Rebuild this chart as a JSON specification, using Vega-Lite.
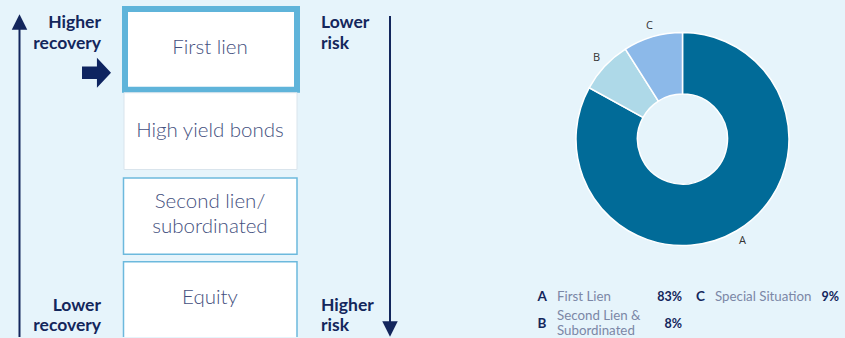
{
  "$schema": "https://vega.github.io/schema/vega-lite/v6.json",
  "width": 845,
  "height": 338,
  "padding": 0,
  "autosize": {"type": "fit", "contains": "padding"},
  "background": "#E6F4FB",
  "view": {"stroke": null},
  "config": {"font": "Lato"},
  "datasets": {
    "boxes": [
      {"name": "First lien", "tier": 1, "x": 125, "x2": 297, "y": 9, "y2": 90},
      {"name": "High yield bonds", "tier": 2, "x": 124, "x2": 297, "y": 93, "y2": 170},
      {"name": "Second lien/subordinated", "tier": 3, "x": 123.5, "x2": 297, "y": 178.5, "y2": 255},
      {"name": "Equity", "tier": 4, "x": 123.5, "x2": 297, "y": 262.5, "y2": 345}
    ],
    "boxtext": [
      {"t": "First lien", "x": 210, "y": 48},
      {"t": "High yield bonds", "x": 210, "y": 131},
      {"t": "Second lien/", "x": 210, "y": 203},
      {"t": "subordinated", "x": 210, "y": 228},
      {"t": "Equity", "x": 210, "y": 299}
    ],
    "side": [
      {"t": "Higher", "side": "left", "x": 101, "y": 23},
      {"t": "recovery", "side": "left", "x": 101, "y": 44},
      {"t": "Lower", "side": "left", "x": 101, "y": 307},
      {"t": "recovery", "side": "left", "x": 101, "y": 327},
      {"t": "Lower", "side": "right", "x": 321, "y": 23},
      {"t": "risk", "side": "right", "x": 321, "y": 44},
      {"t": "Higher", "side": "right", "x": 321, "y": 307},
      {"t": "risk", "side": "right", "x": 321, "y": 327}
    ],
    "lines": [
      {"axis": "recovery", "x": 19.5, "y": 26, "y2": 345},
      {"axis": "risk", "x": 390, "y": 16, "y2": 326}
    ],
    "heads": [
      {"dir": "up", "x": 19.5, "y": 22},
      {"dir": "down", "x": 390, "y": 330}
    ],
    "pointer": [{"target": "First lien", "x": 96.5, "y": 73}],
    "shares": [
      {"key": "A", "name": "First Lien", "pct": 83},
      {"key": "B", "name": "Second Lien & Subordinated", "pct": 8},
      {"key": "C", "name": "Special Situation", "pct": 9}
    ],
    "legend": [
      {"t": "A", "role": "letter", "x": 537.5, "y": 297.5},
      {"t": "First Lien", "role": "label", "x": 557, "y": 297.5},
      {"t": "83%", "role": "pct", "x": 682, "y": 297.5},
      {"t": "C", "role": "letter", "x": 696, "y": 297.5},
      {"t": "Special Situation", "role": "label", "x": 715, "y": 297.5},
      {"t": "9%", "role": "pct", "x": 839, "y": 297.5},
      {"t": "B", "role": "letter", "x": 537.5, "y": 324.5},
      {"t": "Second Lien &", "role": "label", "x": 557, "y": 316.5},
      {"t": "Subordinated", "role": "label", "x": 557, "y": 332},
      {"t": "8%", "role": "pct", "x": 682, "y": 324.5}
    ]
  },
  "layer": [
    {
      "data": {"name": "boxes"},
      "transform": [{"filter": "datum.tier == 1"}],
      "mark": {"type": "rect", "fill": "#FFFFFF", "stroke": "#5FB4DA", "strokeWidth": 6},
      "encoding": {
        "x": {"field": "x", "type": "quantitative", "scale": {"domain": [0, 845], "nice": false, "zero": false}, "axis": null},
        "y": {"field": "y", "type": "quantitative", "scale": {"domain": [0, 338], "nice": false, "zero": false, "reverse": true}, "axis": null},
        "x2": {"field": "x2"}, "y2": {"field": "y2"}
      }
    },
    {
      "data": {"name": "boxes"},
      "transform": [{"filter": "datum.tier == 2"}],
      "mark": {"type": "rect", "fill": "#FFFFFF", "stroke": "#D9E4EC", "strokeWidth": 1},
      "encoding": {
        "x": {"field": "x", "type": "quantitative", "scale": {"domain": [0, 845], "nice": false, "zero": false}, "axis": null},
        "y": {"field": "y", "type": "quantitative", "scale": {"domain": [0, 338], "nice": false, "zero": false, "reverse": true}, "axis": null},
        "x2": {"field": "x2"}, "y2": {"field": "y2"}
      }
    },
    {
      "data": {"name": "boxes"},
      "transform": [{"filter": "datum.tier >= 3"}],
      "mark": {"type": "rect", "fill": "#FFFFFF", "stroke": "#6CB9DD", "strokeWidth": 1.5, "clip": true},
      "encoding": {
        "x": {"field": "x", "type": "quantitative", "scale": {"domain": [0, 845], "nice": false, "zero": false}, "axis": null},
        "y": {"field": "y", "type": "quantitative", "scale": {"domain": [0, 338], "nice": false, "zero": false, "reverse": true}, "axis": null},
        "x2": {"field": "x2"}, "y2": {"field": "y2"}
      }
    },
    {
      "data": {"name": "boxtext"},
      "mark": {"type": "text", "fontSize": 20.5, "fontWeight": 300, "color": "#44507E", "align": "center", "baseline": "middle"},
      "encoding": {
        "x": {"field": "x", "type": "quantitative", "scale": {"domain": [0, 845], "nice": false, "zero": false}, "axis": null},
        "y": {"field": "y", "type": "quantitative", "scale": {"domain": [0, 338], "nice": false, "zero": false, "reverse": true}, "axis": null},
        "text": {"field": "t"}
      }
    },
    {
      "data": {"name": "side"},
      "transform": [{"filter": "datum.side == 'left'"}],
      "mark": {"type": "text", "fontSize": 17.5, "fontWeight": "bold", "color": "#13265C", "align": "right", "baseline": "middle"},
      "encoding": {
        "x": {"field": "x", "type": "quantitative", "scale": {"domain": [0, 845], "nice": false, "zero": false}, "axis": null},
        "y": {"field": "y", "type": "quantitative", "scale": {"domain": [0, 338], "nice": false, "zero": false, "reverse": true}, "axis": null},
        "text": {"field": "t"}
      }
    },
    {
      "data": {"name": "side"},
      "transform": [{"filter": "datum.side == 'right'"}],
      "mark": {"type": "text", "fontSize": 17.5, "fontWeight": "bold", "color": "#13265C", "align": "left", "baseline": "middle"},
      "encoding": {
        "x": {"field": "x", "type": "quantitative", "scale": {"domain": [0, 845], "nice": false, "zero": false}, "axis": null},
        "y": {"field": "y", "type": "quantitative", "scale": {"domain": [0, 338], "nice": false, "zero": false, "reverse": true}, "axis": null},
        "text": {"field": "t"}
      }
    },
    {
      "data": {"name": "lines"},
      "mark": {"type": "rule", "color": "#13265C", "strokeWidth": 2, "clip": true},
      "encoding": {
        "x": {"field": "x", "type": "quantitative", "scale": {"domain": [0, 845], "nice": false, "zero": false}, "axis": null},
        "y": {"field": "y", "type": "quantitative", "scale": {"domain": [0, 338], "nice": false, "zero": false, "reverse": true}, "axis": null},
        "y2": {"field": "y2"}
      }
    },
    {
      "data": {"name": "heads"},
      "mark": {"type": "point", "filled": true, "opacity": 1, "color": "#13265C", "size": 240},
      "encoding": {
        "x": {"field": "x", "type": "quantitative", "scale": {"domain": [0, 845], "nice": false, "zero": false}, "axis": null},
        "y": {"field": "y", "type": "quantitative", "scale": {"domain": [0, 338], "nice": false, "zero": false, "reverse": true}, "axis": null},
        "shape": {"field": "dir", "type": "nominal", "legend": null,
          "scale": {"domain": ["up", "down"], "range": ["M0,-1L1,1L-1,1Z", "M0,1L1,-1L-1,-1Z"]}}
      }
    },
    {
      "data": {"name": "pointer"},
      "mark": {"type": "point", "filled": true, "opacity": 1, "color": "#0E2460", "size": 841,
        "shape": "M-1,-0.43L0.03,-0.43L0.03,-1.03L1,0L0.03,1.03L0.03,0.43L-1,0.43Z"},
      "encoding": {
        "x": {"field": "x", "type": "quantitative", "scale": {"domain": [0, 845], "nice": false, "zero": false}, "axis": null},
        "y": {"field": "y", "type": "quantitative", "scale": {"domain": [0, 338], "nice": false, "zero": false, "reverse": true}, "axis": null}
      }
    },
    {
      "data": {"name": "shares"},
      "transform": [
        {"stack": "pct", "groupby": [], "sort": [{"field": "key", "order": "ascending"}], "as": ["start", "end"]}
      ],
      "mark": {"type": "arc", "outerRadius": 106.5, "innerRadius": 45, "stroke": "#FFFFFF", "strokeWidth": 1.5},
      "encoding": {
        "x": {"datum": 682.5, "type": "quantitative", "stack": false, "scale": {"domain": [0, 845], "nice": false, "zero": false}, "axis": null},
        "y": {"datum": 139.5, "type": "quantitative", "stack": false, "scale": {"domain": [0, 338], "nice": false, "zero": false, "reverse": true}, "axis": null},
        "theta": {"field": "start", "type": "quantitative", "scale": {"domain": [0, 100], "zero": true, "nice": false}},
        "theta2": {"field": "end"},
        "color": {"field": "key", "type": "nominal", "legend": null,
          "scale": {"domain": ["A", "B", "C"], "range": ["#016B98", "#AED9E8", "#8CB9E9"]}}
      }
    },
    {
      "data": {"name": "shares"},
      "transform": [
        {"stack": "pct", "groupby": [], "sort": [{"field": "key", "order": "ascending"}], "as": ["start", "end"]},
        {"fold": ["start", "end"], "as": ["edge", "angle"]},
        {"aggregate": [{"op": "mean", "field": "angle", "as": "mid"}], "groupby": ["key"]}
      ],
      "mark": {"type": "text", "radius": 118, "font": "Open Sans", "fontSize": 11, "color": "#333333", "align": "center", "baseline": "middle"},
      "encoding": {
        "x": {"datum": 682.5, "type": "quantitative", "stack": false, "scale": {"domain": [0, 845], "nice": false, "zero": false}, "axis": null},
        "y": {"datum": 139.5, "type": "quantitative", "stack": false, "scale": {"domain": [0, 338], "nice": false, "zero": false, "reverse": true}, "axis": null},
        "theta": {"field": "mid", "type": "quantitative", "scale": {"domain": [0, 100], "zero": true, "nice": false}},
        "text": {"field": "key"}
      }
    },
    {
      "data": {"name": "legend"},
      "transform": [{"filter": "datum.role == 'letter'"}],
      "mark": {"type": "text", "fontSize": 13.5, "fontWeight": "bold", "color": "#13265C", "align": "left", "baseline": "middle"},
      "encoding": {
        "x": {"field": "x", "type": "quantitative", "scale": {"domain": [0, 845], "nice": false, "zero": false}, "axis": null},
        "y": {"field": "y", "type": "quantitative", "scale": {"domain": [0, 338], "nice": false, "zero": false, "reverse": true}, "axis": null},
        "text": {"field": "t"}
      }
    },
    {
      "data": {"name": "legend"},
      "transform": [{"filter": "datum.role == 'label'"}],
      "mark": {"type": "text", "fontSize": 13.3, "color": "#7B87A6", "align": "left", "baseline": "middle"},
      "encoding": {
        "x": {"field": "x", "type": "quantitative", "scale": {"domain": [0, 845], "nice": false, "zero": false}, "axis": null},
        "y": {"field": "y", "type": "quantitative", "scale": {"domain": [0, 338], "nice": false, "zero": false, "reverse": true}, "axis": null},
        "text": {"field": "t"}
      }
    },
    {
      "data": {"name": "legend"},
      "transform": [{"filter": "datum.role == 'pct'"}],
      "mark": {"type": "text", "fontSize": 12.5, "fontWeight": "bold", "color": "#13265C", "align": "right", "baseline": "middle"},
      "encoding": {
        "x": {"field": "x", "type": "quantitative", "scale": {"domain": [0, 845], "nice": false, "zero": false}, "axis": null},
        "y": {"field": "y", "type": "quantitative", "scale": {"domain": [0, 338], "nice": false, "zero": false, "reverse": true}, "axis": null},
        "text": {"field": "t"}
      }
    }
  ]
}
